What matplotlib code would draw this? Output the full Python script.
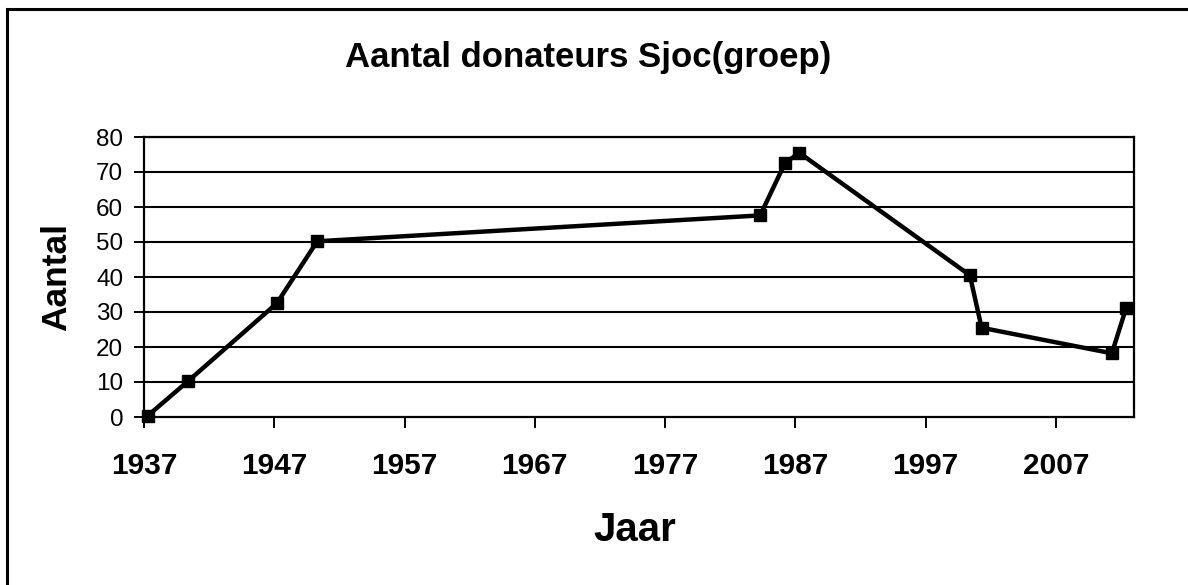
import matplotlib
matplotlib.use("Agg")
import matplotlib.pyplot as plt
from matplotlib.patches import Rectangle

plt.rcParams["font.family"] = ["Liberation Sans", "DejaVu Sans"]

# donors per year
years = [1937.3, 1940.4, 1947.2, 1950.3, 1984.3, 1986.2, 1987.3,
         2000.4, 2001.3, 2011.3, 2012.4]
donors = [0.4, 10.3, 32.5, 50.2, 57.6, 72.5, 75.5,
          40.5, 25.5, 18.2, 31.2]
x_ticks = [1937, 1947, 1957, 1967, 1977, 1987, 1997, 2007]
y_ticks = [0, 10, 20, 30, 40, 50, 60, 70, 80]

fig = plt.figure(figsize=(11.88, 5.85), dpi=100)
ax = fig.add_axes([144 / 1188, 1 - 417 / 585, 990 / 1188, 280 / 585])

# outer chart frame (only top/left visible in the original)
fig.patches.append(Rectangle((7 / 1188, -0.1), 1.2, 1 - 9 / 585 + 0.1,
                             transform=fig.transFigure, fill=False,
                             edgecolor="black", linewidth=2.2))

for y in y_ticks[1:]:
    ax.axhline(y, color="black", linewidth=1.5, zorder=1)

ax.plot(years, donors, "-s", color="black", linewidth=3.2,
        markersize=8, zorder=3, clip_on=False)

ax.set_xlim(1937, 2013)
ax.set_ylim(0, 80)
ax.set_xticks(x_ticks)
ax.set_yticks(y_ticks)
ax.set_xticklabels([str(t) for t in x_ticks], fontsize=21.5, fontweight="bold")
ax.set_yticklabels([str(t) for t in y_ticks], fontsize=17.5)
ax.tick_params(axis="x", direction="out", length=8, width=1.4, pad=17)
ax.tick_params(axis="y", direction="out", length=7, width=1.4, pad=8)
for s in ax.spines.values():
    s.set_linewidth(1.6)

fig.text(588 / 1188, 1 - 57 / 585, "Aantal donateurs Sjoc(groep)",
         fontsize=25, fontweight="bold", ha="center", va="center")
fig.text(57 / 1188, 1 - 277 / 585, "Aantal", fontsize=25.5,
         fontweight="bold", rotation=90, ha="center", va="center")
fig.text(635 / 1188, 1 - 530 / 585, "Jaar", fontsize=29,
         fontweight="bold", ha="center", va="center")

plt.savefig("out.png", dpi=100)
